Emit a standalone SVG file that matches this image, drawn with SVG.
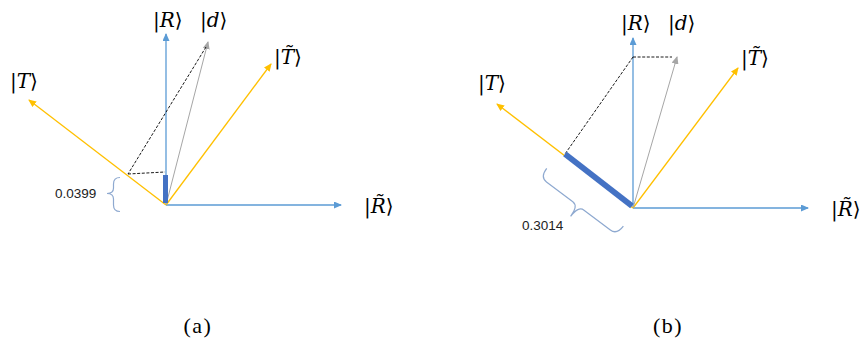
<svg xmlns="http://www.w3.org/2000/svg" width="861" height="339" viewBox="0 0 861 339">
<style>
.ax{stroke:#5B9BD5;stroke-width:1.3;fill:none}
.yl{stroke:#FFC000;stroke-width:1.3;fill:none}
.gr{stroke:#A6A6A6;stroke-width:1;fill:none}
.ds{stroke:#000;stroke-width:0.9;stroke-dasharray:3 1.6;fill:none}
.bar{stroke:#4472C4;fill:none;stroke-linecap:butt}
.br{stroke:#8EA9D0;stroke-width:1.2;fill:none}
.lb{font-family:"DejaVu Serif","Liberation Serif",serif;font-size:20px;fill:#000}
.it{font-style:italic}
.num{font-family:"Liberation Sans",Arial,sans-serif;font-size:13.5px;fill:#222}
.cap{font-family:"Liberation Serif",serif;font-size:22px;letter-spacing:1.5px;fill:#000}
</style>
<defs>
<marker id="mb" markerWidth="8" markerHeight="7" refX="7" refY="3.5" orient="auto" markerUnits="userSpaceOnUse"><path d="M0,0 L8,3.5 L0,7 Z" fill="#5B9BD5"/></marker>
<marker id="my" markerWidth="8" markerHeight="7" refX="7" refY="3.5" orient="auto" markerUnits="userSpaceOnUse"><path d="M0,0 L8,3.5 L0,7 Z" fill="#FFC000"/></marker>
<marker id="mg" markerWidth="8" markerHeight="7" refX="7" refY="3.5" orient="auto" markerUnits="userSpaceOnUse"><path d="M0,0 L8,3.5 L0,7 Z" fill="#A6A6A6"/></marker>
</defs>

<g id="panel-a">
  <g id="connectors-a">
    <line class="ax" x1="166" y1="205" x2="166" y2="34" marker-end="url(#mb)"/>
    <line class="ax" x1="166" y1="205" x2="341" y2="205" marker-end="url(#mb)"/>
    <line class="yl" x1="166" y1="205" x2="29" y2="100" marker-end="url(#my)"/>
    <line class="yl" x1="166" y1="205" x2="271" y2="64" marker-end="url(#my)"/>
    <line class="gr" x1="166" y1="205" x2="208" y2="42" marker-end="url(#mg)"/>
    <line class="ds" x1="206" y1="47" x2="128" y2="174"/>
    <line class="ds" x1="128" y1="174" x2="165" y2="172"/>
    <line class="bar" x1="165.5" y1="175" x2="165.5" y2="203" stroke-width="5"/>
    <path class="br" d="M120,177.5 Q113.5,177.5 113.5,184 L113.5,188 Q113.5,193.5 107,193.5 Q113.5,193.5 113.5,199 L113.5,205 Q113.5,211.5 120,211.5"/>
  </g>
  <g id="label-R-a"><text class="lb" x="153" y="27">|<tspan class="it">R</tspan>⟩</text></g>
  <g id="label-d-a"><text class="lb" x="200" y="27">|<tspan class="it">d</tspan>⟩</text></g>
  <g id="label-T-a"><text class="lb" x="10" y="88">|<tspan class="it">T</tspan>⟩</text></g>
  <g id="label-Tt-a"><text class="lb" x="274" y="64">|<tspan class="it">T̃</tspan>⟩</text></g>
  <g id="label-Rt-a"><text class="lb" x="364" y="213">|<tspan class="it">R̃</tspan>⟩</text></g>
  <g id="value-a"><text class="num" x="55" y="198">0.0399</text></g>
  <g id="caption-a"><text class="cap" x="198" y="333" text-anchor="middle">(a)</text></g>
</g>

<g id="panel-b">
  <g id="connectors-b">
    <line class="ax" x1="633" y1="208" x2="633" y2="38" marker-end="url(#mb)"/>
    <line class="ax" x1="633" y1="208" x2="808" y2="208" marker-end="url(#mb)"/>
    <line class="yl" x1="633" y1="208" x2="497" y2="104" marker-end="url(#my)"/>
    <line class="yl" x1="633" y1="208" x2="738" y2="68" marker-end="url(#my)"/>
    <line class="gr" x1="633" y1="208" x2="677" y2="57" marker-end="url(#mg)"/>
    <line class="ds" x1="633" y1="57" x2="672" y2="57"/>
    <line class="ds" x1="633" y1="57" x2="565" y2="154"/>
    <line class="bar" x1="565" y1="154" x2="632" y2="206" stroke-width="6"/>
    <path class="br" transform="translate(546.7,168.3) rotate(37)" d="M0,0 Q0,11 8,11 L41,11 Q48,11 48,24 Q48,11 55,11 L88,11 Q96,11 96,0"/>
  </g>
  <g id="label-R-b"><text class="lb" x="621" y="30">|<tspan class="it">R</tspan>⟩</text></g>
  <g id="label-d-b"><text class="lb" x="668" y="30">|<tspan class="it">d</tspan>⟩</text></g>
  <g id="label-T-b"><text class="lb" x="478" y="90">|<tspan class="it">T</tspan>⟩</text></g>
  <g id="label-Tt-b"><text class="lb" x="741" y="65">|<tspan class="it">T̃</tspan>⟩</text></g>
  <g id="label-Rt-b"><text class="lb" x="831" y="216">|<tspan class="it">R̃</tspan>⟩</text></g>
  <g id="value-b"><text class="num" x="522" y="230">0.3014</text></g>
  <g id="caption-b"><text class="cap" x="668" y="333" text-anchor="middle">(b)</text></g>
</g>
</svg>
